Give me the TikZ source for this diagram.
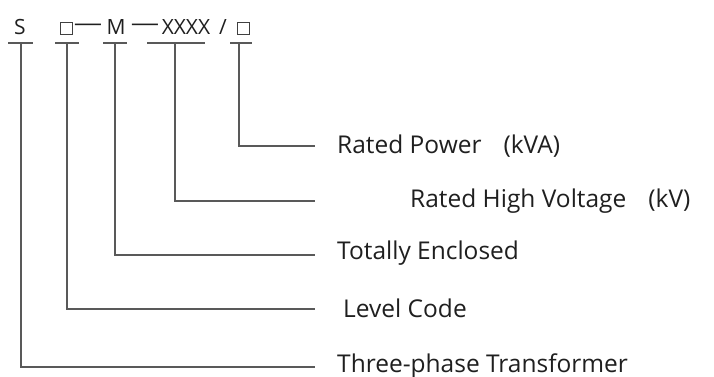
\documentclass[tikz,border=0pt]{standalone}
\usepackage{fontspec}
\usepackage{graphicx}
\setmainfont{Open Sans}
\begin{document}
\begin{tikzpicture}[x=1pt,y=-1pt,
  lbl/.style={anchor=west,inner sep=0pt,text=black!88,font=\fontsize{24.5}{26}\selectfont},
  code/.style={inner sep=0pt,text=black!88,font=\fontsize{21}{23}\selectfont},
  sq/.style={draw=black!75,line width=0.9pt,minimum size=12pt,inner sep=0pt},
  ln/.style={draw=black!65,line width=1.1pt}]
\useasboundingbox (0,0) rectangle (714,377);
% top code
\node[code] (S) at (20,27) {S};
\node[sq] (b1) at (66,28) {};
\node[code] (d1) at (88,27) {\scalebox{1.35}[1]{—}};
\node[code] (M) at (116,27) {M};
\node[code] (d2) at (145,27) {\scalebox{1.35}[1]{—}};
\node[code] (X) at (186,27) {XXXX};
\node[code] (sl) at (223,27) {/};
\node[sq] (b2) at (243,28) {};
% underline coordinates
\coordinate (uS1) at (8,43); \coordinate (uS2) at (33,43); \coordinate (vS) at (21,43);
\coordinate (ub1) at (55,43); \coordinate (ub2) at (79,43); \coordinate (vb) at (67,43);
\coordinate (uM1) at (103,43); \coordinate (uM2) at (127,43); \coordinate (vM) at (115,43);
\coordinate (uX1) at (147,43); \coordinate (uX2) at (205,43); \coordinate (vX) at (175,43);
\coordinate (uP1) at (230,43); \coordinate (uP2) at (252,43); \coordinate (vP) at (239,43);
% labels
\node[lbl] (P) at (337,146) {Rated Power\hspace{0.9em}(kVA)};
\node[lbl] (HV) at (410,201) {Rated High Voltage\hspace{0.9em}(kV)};
\node[lbl] (TE) at (337,253) {Totally Enclosed};
\node[lbl] (LC) at (343,308) {Level Code};
\node[lbl] (TT) at (337,366) {Three-phase Transformer};
% end points of horizontals
\coordinate (eP) at (315,146);
\coordinate (eHV) at (315,201);
\coordinate (eTE) at (315,255);
\coordinate (eLC) at (315,309);
\coordinate (eTT) at (315,367);
% lines
\draw[ln] (uS1) -- (uS2); \draw[ln] (vS) |- (eTT);
\draw[ln] (ub1) -- (ub2); \draw[ln] (vb) |- (eLC);
\draw[ln] (uM1) -- (uM2); \draw[ln] (vM) |- (eTE);
\draw[ln] (uX1) -- (uX2); \draw[ln] (vX) |- (eHV);
\draw[ln] (uP1) -- (uP2); \draw[ln] (vP) |- (eP);
\end{tikzpicture}
\end{document}
